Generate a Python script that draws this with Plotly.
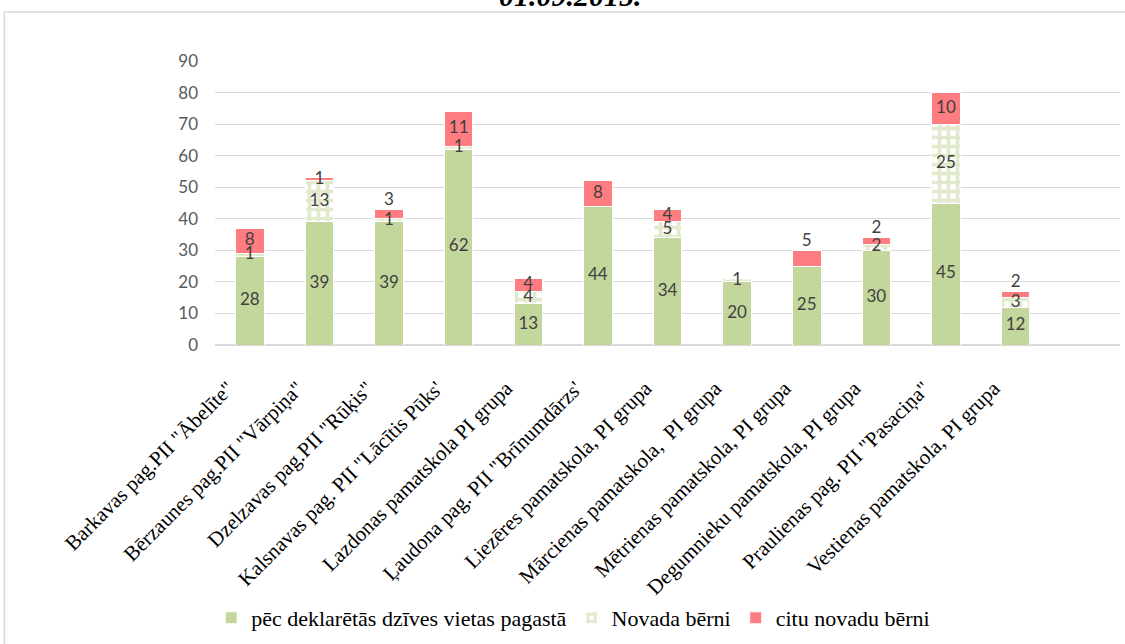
import plotly.graph_objects as go

categories = [
    'Barkavas pag.PII "Ābelīte"',
    'Bērzaunes pag.PII "Vārpiņa"',
    'Dzelzavas pag.PII "Rūķis"',
    "Kalsnavas pag. PII \"Lācītis Pūks'",
    'Lazdonas pamatskola PI grupa',
    "Ļaudona pag. PII \"Brīnumdārzs'",
    'Liezēres pamatskola, PI grupa',
    'Mārcienas pamatskola,  PI grupa',
    'Mētrienas pamatskola, PI grupa',
    'Degumnieku pamatskola, PI grupa',
    'Praulienas pag. PII "Pasaciņa"',
    'Vestienas pamatskola, PI grupa',
]
pagasta = [28, 39, 39, 62, 13, 44, 34, 20, 25, 30, 45, 12]
novada = [1, 13, 1, 1, 4, 0, 5, 1, 0, 2, 25, 3]
citu = [8, 1, 3, 11, 4, 8, 4, 0, 5, 2, 10, 2]
y_ticks = [0, 10, 20, 30, 40, 50, 60, 70, 80, 90]
title_text = "01.09.2015."
series_names = ["pēc deklarētās dzīves vietas pagastā", "Novada bērni", "citu novadu bērni"]

# which red labels sit above the bar (style)
citu_above = [False, False, True, False, False, False, False, False, True, True, False, True]

GREEN = "#c3d69b"
RED = "#ff7c80"
LBL = "#404040"

x = list(range(len(categories)))

W, H = 1125, 644
L, R = 214.7, 1120.0
T, B = 61.0, 345.0
pw, ph = R - L, B - T

def px2x(p):
    return (p - L) / pw

def px2y(p):
    return (B - p) / ph

fig = go.Figure()
bar_w = 0.41
fig.add_trace(go.Bar(x=x, y=pagasta, name=series_names[0], width=bar_w,
                     marker=dict(color=GREEN, line=dict(color="white", width=1))))
fig.add_trace(go.Bar(x=x, y=novada, name=series_names[1], width=bar_w,
                     marker=dict(color=GREEN, line=dict(color="white", width=1),
                                 pattern=dict(shape="+", fgcolor=GREEN, bgcolor="white",
                                              size=9, solidity=0.65))))
fig.add_trace(go.Bar(x=x, y=citu, name=series_names[2], width=bar_w,
                     marker=dict(color=RED, line=dict(color="white", width=1))))

# data labels drawn on top
lx, ly, lt, lp = [], [], [], []
for i in x:
    base = 0
    for s, vals in enumerate([pagasta, novada, citu]):
        v = vals[i]
        if v > 0:
            lx.append(i)
            lt.append(str(v))
            if s == 2 and citu_above[i]:
                ly.append(base + v)
                lp.append("top center")
            else:
                ly.append(base + v / 2)
                lp.append("middle center")
        base += v
fig.add_trace(go.Scatter(x=lx, y=ly, text=lt, mode="text", textposition=lp,
                         textfont=dict(family="Lato", size=17, color=LBL),
                         showlegend=False, hoverinfo="skip", cliponaxis=False))

fig.update_layout(
    width=W, height=H,
    margin=dict(l=L, r=W - R, t=T, b=H - B),
    barmode="stack",
    plot_bgcolor="white", paper_bgcolor="white",
    showlegend=True,
    legend=dict(orientation="h", x=px2x(573), xanchor="center",
                y=px2y(618), yanchor="middle",
                font=dict(family="Liberation Serif", size=22, color="black"),
                itemwidth=30, traceorder="normal"),
    xaxis=dict(range=[-0.5, 12.5], tickvals=x, ticktext=categories, tickangle=-45,
               tickfont=dict(family="Liberation Serif", size=21, color="black"),
               showgrid=False, zeroline=False, showline=False, ticks="",
               ticklabelstandoff=26, ticklabelshift=-22,
               automargin=False),
    yaxis=dict(range=[0, 90], tickvals=y_ticks, showgrid=True, gridcolor="#d9d9d9",
               gridwidth=1, zeroline=True, zerolinecolor="#d9d9d9", zerolinewidth=2,
               tickfont=dict(family="Lato", size=17, color="#595959"),
               ticklabelstandoff=16, ticks="", automargin=False),
    annotations=[dict(text="<b><i>" + title_text + "</i></b>", xref="paper", yref="paper",
                      x=px2x(570), y=px2y(-4), xanchor="center", yanchor="middle",
                      showarrow=False,
                      font=dict(family="Liberation Serif", size=30, color="black"))],
    shapes=[dict(type="rect", xref="paper", yref="paper",
                 x0=px2x(4), x1=px2x(1135), y0=px2y(670), y1=px2y(12),
                 line=dict(color="#d9d9d9", width=1.5), fillcolor="rgba(0,0,0,0)",
                 layer="below")],
)

fig.write_html("out.html", config={"displayModeBar": False},
               post_script="document.body.style.margin='0';")
